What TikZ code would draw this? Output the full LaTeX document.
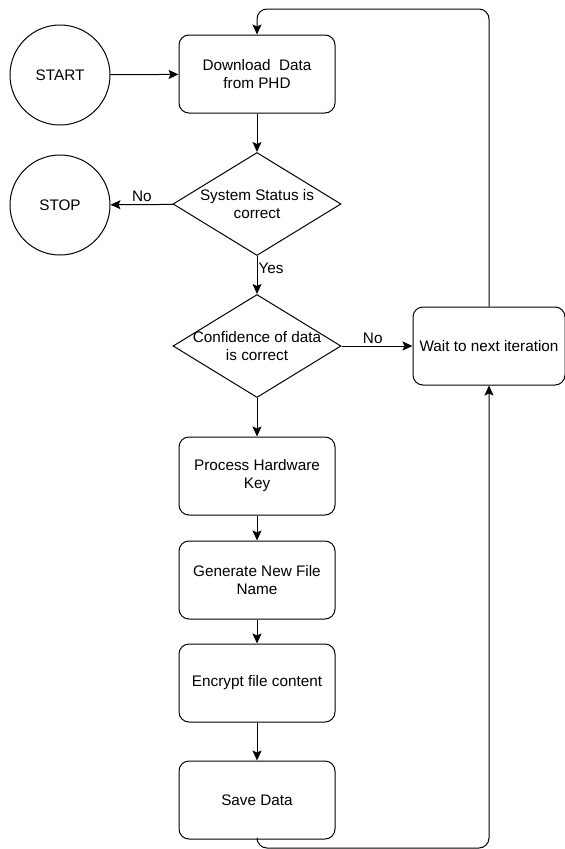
\documentclass[tikz,border=0pt]{standalone}
\usepackage{fontspec}
\setmainfont{Liberation Sans}
\usetikzlibrary{shapes.geometric,arrows.meta}

\tikzset{
  chartfont/.style={font=\fontsize{15.3}{18}\selectfont},
  process/.style={draw, chartfont, rounded corners=10pt, minimum width=156pt, minimum height=78pt, align=center, line width=1pt},
  terminal/.style={draw, chartfont, circle, minimum size=100pt, line width=1pt},
  decision/.style={draw, diamond, minimum width=168pt, minimum height=103pt, inner sep=0pt, line width=1pt},
  flow/.style={line width=1pt, -{Stealth[length=10pt,width=9pt,inset=2pt]}},
  edgelabel/.style={chartfont, inner sep=2pt},
}

\begin{document}
\begin{tikzpicture}[x=1pt,y=-1pt]
\useasboundingbox (0,0) rectangle (565,849);
% start and stop
\node[terminal] (start) at (60,75) {START};
\node[terminal] (stop) at (60,205) {STOP};
% main column
\node[process] (download) at (257,74) {Download\ \ Data\\from PHD};
\node[decision, label={[chartfont,align=center]center:System Status is\\correct}] (status) at (257,204) {};
\node[decision, label={[chartfont,align=center]center:Confidence of data\\is correct}] (confidence) at (257,346) {};
\node[process] (hwkey) at (257,476) {Process Hardware\\Key};
\node[process] (filename) at (257,580) {Generate New File\\Name};
\node[process] (encrypt) at (257,683) {Encrypt file content};
\node[process] (save) at (257,800) {Save Data};
% waiting
\node[process, minimum width=152pt] (wait) at (489,346) {Wait to next iteration};
\coordinate (looptop) at (0,9);
\coordinate (loopbot) at (0,848);

\draw[flow] (start) -- (download);
\draw[flow] (download) -- (status);
\draw[flow] (status) -- node[edgelabel, above, pos=0.5] {No} (stop);
\draw[flow] (status) -- node[edgelabel, right, pos=0.33, inner sep=1pt] {Yes} (confidence);
\draw[flow] (confidence) -- node[edgelabel, above, pos=0.44] {No} (wait);
\draw[flow] (confidence) -- (hwkey);
\draw[flow] (hwkey) -- (filename);
\draw[flow] (filename) -- (encrypt);
\draw[flow] (encrypt) -- (save);
\draw[flow, rounded corners=10pt] (wait.north) -- (wait.north |- looptop) -| (download.north);
\draw[flow, rounded corners=10pt] (save.south) -- (save.south |- loopbot) -| (wait.south);
\end{tikzpicture}
\end{document}
